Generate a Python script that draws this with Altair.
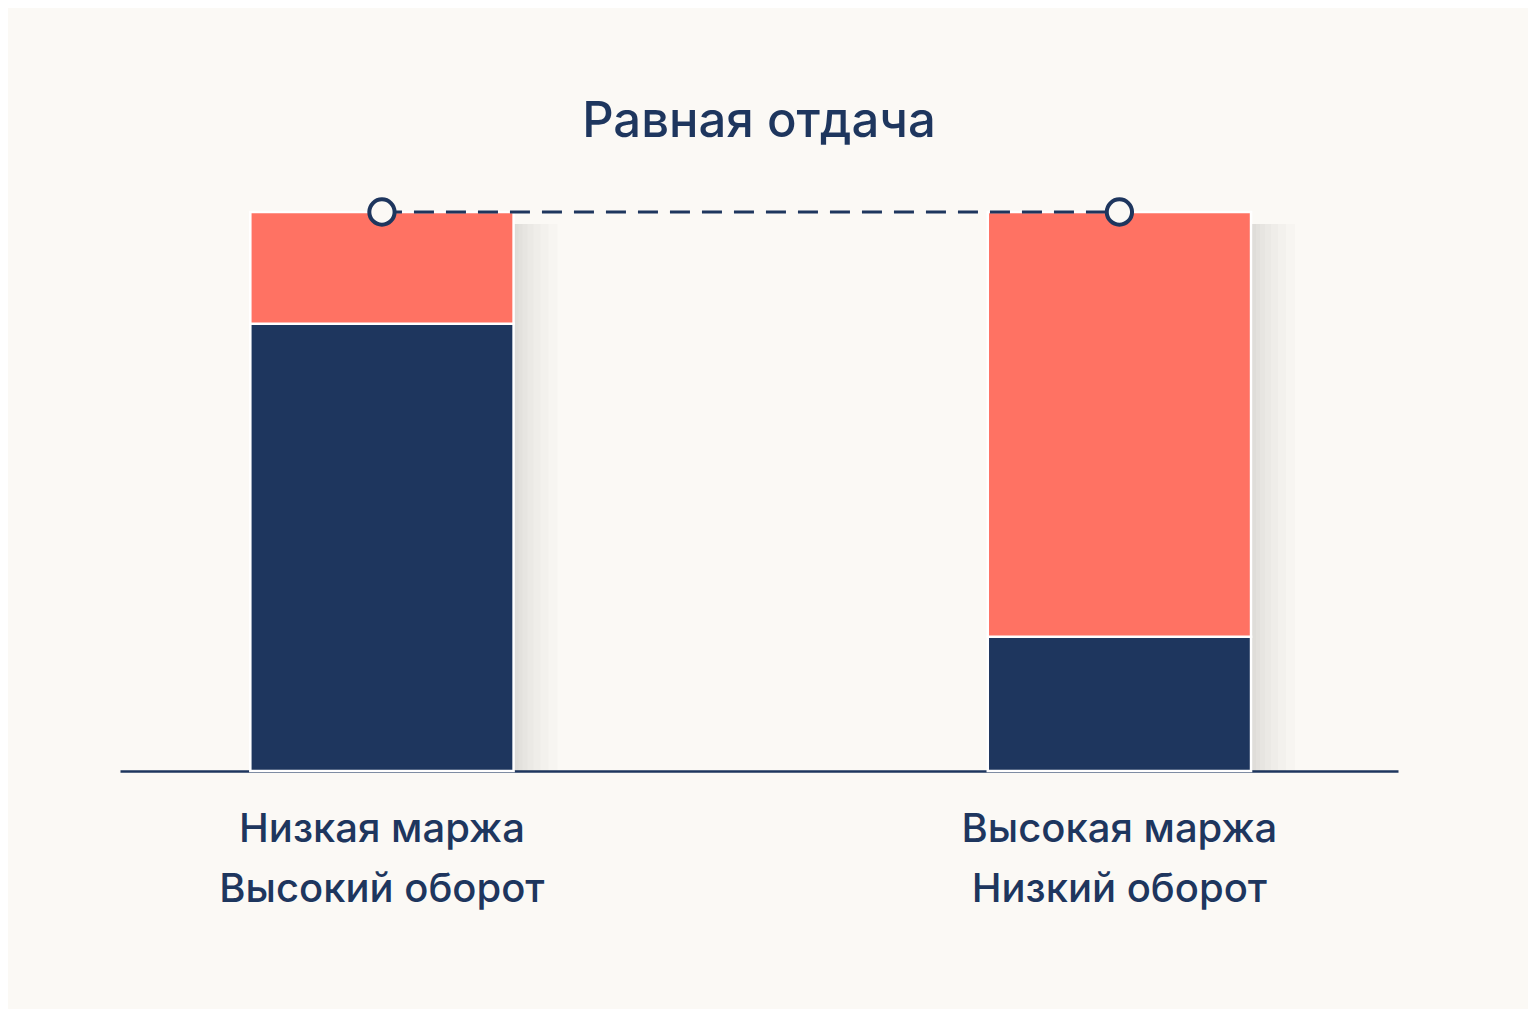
import altair as alt
import pandas as pd

# Данные: две стратегии с одинаковой итоговой отдачей
strategies = ["Низкая маржа\nВысокий оборот", "Высокая маржа\nНизкий оборот"]
turnover_part = [80, 24]   # тёмно-синяя часть
margin_part = [20, 76]     # коралловая часть
components = ["Оборот", "Маржа"]

NAVY = "#1E365E"
CORAL = "#FF7263"
BG = "#FBF9F5"
FONT = "Inter"

rows = []
for s, t, m in zip(strategies, turnover_part, margin_part):
    rows.append({"strategy": s, "part": components[0], "value": t, "order": 0})
    rows.append({"strategy": s, "part": components[1], "value": m, "order": 1})
df = pd.DataFrame(rows)

totals = pd.DataFrame({
    "strategy": strategies,
    "total": [t + m for t, m in zip(turnover_part, margin_part)],
})

x_scale = alt.Scale(domain=strategies, paddingInner=0.643, paddingOuter=0.188, align=0.47)
y_scale = alt.Scale(domain=[0, 100])

x_enc = alt.X(
    "strategy:N", scale=x_scale, sort=strategies, title=None,
    axis=alt.Axis(
        labelExpr="split(datum.label, '\\n')", labelAngle=0, labelLimit=0,
        labelFont=FONT, labelFontSize=40, labelFontWeight=500, labelColor=NAVY,
        labelLineHeight=60, labelPadding=38, ticks=False,
        domainColor=NAVY, domainWidth=2.5,
    ),
)

# мягкая тень справа от столбцов
shadows = [
    alt.Chart(totals).mark_bar(color="#000000", opacity=0.016, xOffset=off, yOffset=12)
    .encode(x=x_enc, y=alt.Y("total:Q", scale=y_scale, axis=None), y2=alt.datum(0))
    for off in [2, 5, 9, 14, 20, 27, 35, 44]
]

bars = alt.Chart(df).mark_bar(stroke="white", strokeWidth=2.5).encode(
    x=x_enc,
    y=alt.Y("value:Q", stack="zero", scale=y_scale, axis=None),
    color=alt.Color("part:N", scale=alt.Scale(domain=components, range=[NAVY, CORAL]), legend=None),
    order=alt.Order("order:Q"),
)

link = alt.Chart(totals).mark_line(color=NAVY, strokeWidth=3, strokeDash=[20, 12]).encode(
    x=x_enc, y=alt.Y("total:Q", scale=y_scale)
)

dots = alt.Chart(totals).mark_point(
    shape="circle", filled=True, fill=BG, stroke=NAVY, strokeWidth=4, size=640, opacity=1
).encode(x=x_enc, y=alt.Y("total:Q", scale=y_scale))

chart = alt.layer(*shadows, bars, link, dots).properties(
    width=1278,
    height=559,
    background=BG,
    padding={"left": 112, "top": 90, "right": 130, "bottom": 100},
    title=alt.TitleParams(
        "Равная отдача", font=FONT, fontSize=49, fontWeight=500, color=NAVY,
        anchor="middle", frame="group", baseline="alphabetic", offset=5,
    ),
).configure_view(stroke=None)

chart.save("out.html", embed_options={"renderer": "svg", "actions": False})
